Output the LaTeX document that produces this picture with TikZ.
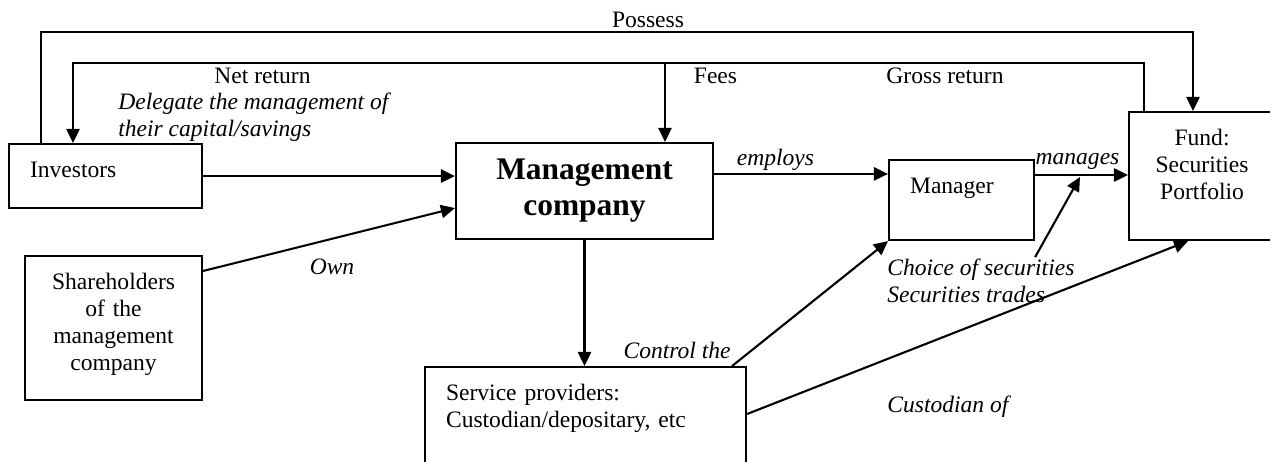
\documentclass[tikz,border=0pt]{standalone}
\usepackage{fontspec}
\setmainfont{Liberation Serif}
\usetikzlibrary{positioning, arrows.meta, calc}

\begin{document}
\begin{tikzpicture}
[box/.style={rectangle, draw, line width=1.2pt, inner xsep=0.42cm, inner ysep=0pt,
   text height=0.66cm, align=left, anchor=north west},
 txt/.style={inner sep=0pt},
 lbl/.style={inner sep=0pt, font=\fontsize{13.4}{15.4}\selectfont\itshape},
 ->/.style={line width=1.2pt, arrows={-Triangle[length=8pt, width=7.5pt]}},
 font=\fontsize{13.4}{15.4}\selectfont]

\useasboundingbox (0,0) rectangle (25.4,9.24);
\clip (0,0) rectangle (25.4,9.24);

% the boxes
\node[box, text width=3.02cm, text depth=0.62cm] (inv) at (0.16,6.38) {Investors};
\node[box, text width=2.70cm, text depth=2.22cm, align=center] (share) at (0.48,4.14)
  {Shareholders\\of the\\management\\company};
\node[rectangle, draw, line width=1.2pt, minimum width=5.14cm, minimum height=1.92cm,
  align=center, font=\fontsize{17.9}{20.6}\selectfont\bfseries] (mgmt) at (11.69,5.42)
  {Management\\company};
\node[box, text width=2.06cm, text depth=0.94cm] (mgr) at (17.76,6.06) {Manager};
\node[box, text width=2.08cm, text depth=1.90cm, align=center] (fund) at (22.56,7.02)
  {Fund:\\Securities\\Portfolio};
\node[box, text width=5.58cm, text depth=1.90cm] (serv) at (8.48,1.92)
  {Service providers:\\Custodian/depositary, etc};

% texts on the links
\node[txt] (possess) at (12.96,8.85) {Possess};
\node[txt] (net) at (5.25,7.73) {Net return};
\node[txt] (fees) at (14.31,7.73) {Fees};
\node[txt] (gross) at (18.90,7.73) {Gross return};
\node[lbl, anchor=base west, align=left] (deleg) at (2.36,6.50)
  {Delegate the management of\\their capital/savings};
\node[lbl, anchor=base] (own) at (6.64,3.74) {Own};
\node[lbl, anchor=base] (employs) at (15.51,5.93) {employs};
\node[lbl, anchor=base] (manages) at (21.55,5.94) {manages};
\node[lbl, anchor=base east] (control) at (14.62,2.07) {Control the};
\node[lbl, anchor=base west, align=left] (choice) at (17.74,3.18)
  {Choice of securities\\Securities trades};
\node[lbl, anchor=base west] (cust) at (17.74,0.99) {Custodian of};

\coordinate (fee) at (13.30,7.98);
\coordinate (trade) at (21.60,5.70);

  \draw [->] ([xshift=0.66cm]inv.north west) -- ++(0,2.22) -| ([xshift=1.30cm]fund.north west);
  \draw [->] ([xshift=0.32cm]fund.north west) -- ++(0,0.96) -| ([xshift=1.30cm]inv.north west);
  \draw [->] (fee) -- (fee |- mgmt.north);
  \draw [->] (inv.east) -- (inv.east -| mgmt.west);
  \draw [->] ([yshift=-0.32cm]share.north east) -- ([yshift=0.64cm]mgmt.south west);
  \draw [->] (mgmt.south) -- (mgmt.south |- serv.north);
  \draw [->] ([yshift=-0.64cm]mgmt.north east) -- ([yshift=-0.64cm]mgmt.north east -| mgr.west);
  \draw [->] ([yshift=-0.32cm]mgr.north east) -- ([yshift=-0.32cm]mgr.north east -| fund.west);
  \draw [->] ([xshift=-0.30cm]serv.north east) -- (mgr.south west);
  \draw [->] ([yshift=-0.32cm]mgr.south east) -- (trade);
  \draw [->] ([yshift=-0.96cm]serv.north east) -- ([xshift=1.20cm]fund.south west);

\end{tikzpicture}
\end{document}
